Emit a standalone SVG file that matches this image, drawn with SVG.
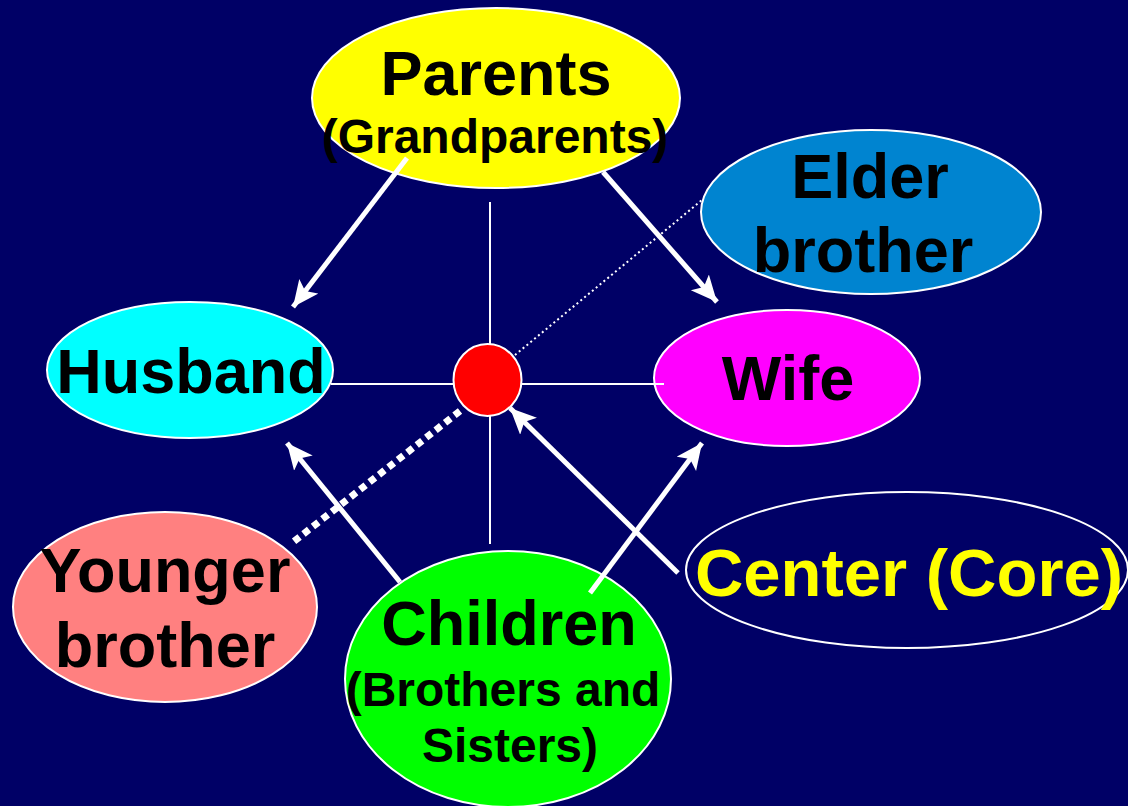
<svg xmlns="http://www.w3.org/2000/svg" width="1128" height="806" viewBox="0 0 1128 806">
<defs>
<style>
.node{stroke:#ffffff;stroke-width:2}
.t{font-family:"Liberation Sans",Arial,sans-serif;font-weight:bold;fill:#000000;text-anchor:middle}
.big{font-size:63px}
.small{font-size:48px}
.thin{stroke:#ffffff;stroke-width:2;fill:none}
.arrow{stroke:#ffffff;stroke-width:5;fill:none;marker-end:url(#ah)}
</style>
<marker id="ah" markerUnits="userSpaceOnUse" markerWidth="30" markerHeight="26" refX="26" refY="12" orient="auto">
<path d="M0,0 L26,12 L0,24 L6,12 Z" fill="#ffffff"/>
</marker>
</defs>
<rect width="1128" height="806" fill="#000066"/>
<g id="center">
<ellipse class="node" cx="487.5" cy="380" rx="34" ry="36" fill="#ff0000"/>
</g>
<g id="parents">
<ellipse class="node" cx="496" cy="98" rx="184" ry="90" fill="#ffff00"/>
<text class="t big" x="496" y="95">Parents</text>
<text class="t small" x="495" y="153">(Grandparents)</text>
</g>
<g id="elder">
<ellipse class="node" cx="871" cy="212" rx="170" ry="82" fill="#0084d0"/>
<text class="t big" x="870" y="198">Elder</text>
<text class="t big" x="863" y="272">brother</text>
</g>
<g id="husband">
<ellipse class="node" cx="190" cy="370" rx="143" ry="68" fill="#00ffff"/>
<text class="t big" x="191" y="393">Husband</text>
</g>
<g id="wife">
<ellipse class="node" cx="787" cy="378" rx="133" ry="68" fill="#ff00ff"/>
<text class="t big" x="788" y="400">Wife</text>
</g>
<g id="younger">
<ellipse class="node" cx="165" cy="607" rx="152" ry="95" fill="#ff8080"/>
<text class="t big" x="165" y="592">Younger</text>
<text class="t big" x="165" y="667">brother</text>
</g>
<g id="children">
<ellipse class="node" cx="508" cy="679" rx="163" ry="128" fill="#00ff00"/>
<text class="t big" x="509" y="645">Children</text>
<text class="t small" x="503" y="706">(Brothers and</text>
<text class="t small" x="510" y="762">Sisters)</text>
</g>
<g id="core">
<ellipse class="node" cx="907" cy="570" rx="221" ry="78" fill="none"/>
<text class="t" x="909" y="596" style="font-size:67px;fill:#ffff00">Center (Core)</text>
</g>
<g id="connectors">
<line class="thin" x1="490" y1="202" x2="490" y2="344"/>
<line class="thin" x1="490" y1="416" x2="490" y2="544"/>
<line class="thin" x1="331" y1="384" x2="454" y2="384"/>
<line class="thin" x1="521" y1="384" x2="664" y2="384"/>
<line stroke="#ffffff" stroke-width="2" stroke-dasharray="2 3" x1="515" y1="355" x2="702" y2="200"/>
<line stroke="#ffffff" stroke-width="7" stroke-dasharray="7 5" x1="460" y1="411" x2="292" y2="543"/>
<line class="arrow" x1="407" y1="158" x2="293" y2="307"/>
<line class="arrow" x1="603" y1="172" x2="717" y2="302"/>
<line class="arrow" x1="400" y1="582" x2="287" y2="443"/>
<line class="arrow" x1="590" y1="593" x2="702" y2="443"/>
<line class="arrow" x1="678" y1="573" x2="510" y2="408"/>
</g>
</svg>
